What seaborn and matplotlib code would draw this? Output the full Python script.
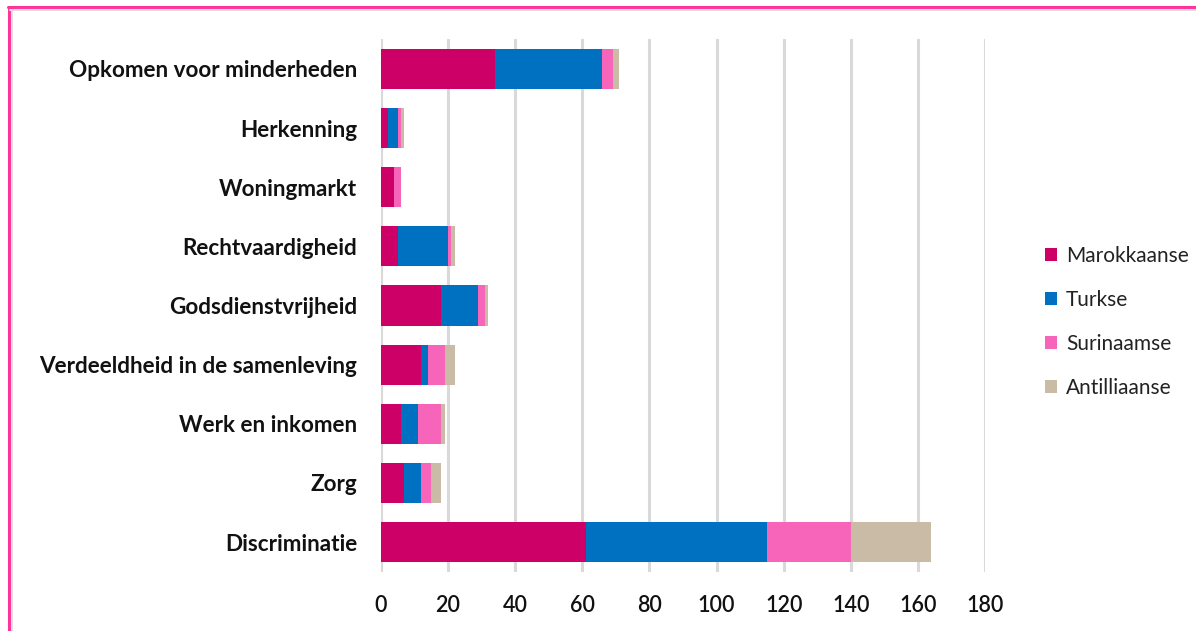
import matplotlib
matplotlib.use("Agg")
import matplotlib.pyplot as plt
from matplotlib.patches import Patch
from matplotlib.lines import Line2D
import numpy as np
import pandas as pd
import seaborn as sns

categories = ["Opkomen voor minderheden", "Herkenning", "Woningmarkt", "Rechtvaardigheid",
              "Godsdienstvrijheid", "Verdeeldheid in de samenleving", "Werk en inkomen",
              "Zorg", "Discriminatie"]
marokkaanse = [34, 2, 4, 5, 18, 12, 6, 7, 61]
turkse      = [32, 3, 0, 15, 11, 2, 5, 5, 54]
surinaamse  = [3, 1, 2, 1, 2, 5, 7, 3, 25]
antilliaanse = [2, 1, 0, 1, 1, 3, 1, 3, 24]
series_names = ["Marokkaanse", "Turkse", "Surinaamse", "Antilliaanse"]
xticks = [0, 20, 40, 60, 80, 100, 120, 140, 160, 180]

colors = ["#CC0066", "#0070C0", "#F765BB", "#C9BBA6"]

sns.set_theme(style="white")
plt.rcParams['font.family'] = ['Lato', 'DejaVu Sans']

vals = np.array([marokkaanse, turkse, surinaamse, antilliaanse], dtype=float)
cum = np.cumsum(vals, axis=0)

fig = plt.figure(figsize=(11.96, 6.31), dpi=100)
ax = fig.add_axes([381/1196, 1-571.6/631, (985-381)/1196, (571.6-39.4)/631])

for i in range(3, -1, -1):
    df = pd.DataFrame({"cat": categories, "val": cum[i]})
    sns.barplot(data=df, x="val", y="cat", order=categories, orient="h",
                color=colors[i], width=0.68, ax=ax, saturation=1, linewidth=0)

ax.set_xlim(0, 180)
ax.set_xticks(xticks)
ax.set_xticklabels([str(t) for t in xticks])
ax.set_xlabel("")
ax.set_ylabel("")
ax.grid(axis="x", color="#D9D9D9", linewidth=2.2)
ax.grid(axis="y", visible=False)
ax.set_axisbelow(True)
for s in ax.spines.values():
    s.set_visible(False)
ax.tick_params(axis="both", length=0)
ax.tick_params(axis="y", pad=17, labelsize=16.2)
ax.tick_params(axis="x", pad=17, labelsize=15.5)
for lbl in ax.get_yticklabels():
    lbl.set_fontweight("bold")
    lbl.set_color("#111111")
for lbl in ax.get_xticklabels():
    lbl.set_color("#111111")
    lbl.set_fontweight("semibold")

handles = [Patch(facecolor=c, edgecolor="none") for c in colors]
fig.legend(handles, series_names, loc="center left", bbox_to_anchor=(1045/1196, 1-322/631),
           frameon=False, borderaxespad=0, borderpad=0, fontsize=15,
           handlelength=0.58, handleheight=0.58, handletextpad=0.42, labelspacing=1.15,
           labelcolor="#222222")

# decorative frame (pink, top and left) with grey shadow
fig.add_artist(Line2D([8/1196, 1], [1-6.5/631, 1-6.5/631], color="#FF3399", linewidth=2.2,
                      transform=fig.transFigure))
fig.add_artist(Line2D([8.5/1196, 8.5/1196], [0, 1-6.5/631], color="#FF3399", linewidth=2.2,
                      transform=fig.transFigure))
fig.add_artist(Line2D([10/1196, 1], [1-9.5/631, 1-9.5/631], color="#DDDDDD", linewidth=1.5,
                      transform=fig.transFigure))
fig.add_artist(Line2D([11.5/1196, 11.5/1196], [0, 1-9.5/631], color="#DDDDDD", linewidth=1.5,
                      transform=fig.transFigure))

fig.savefig("out.png", dpi=100)
